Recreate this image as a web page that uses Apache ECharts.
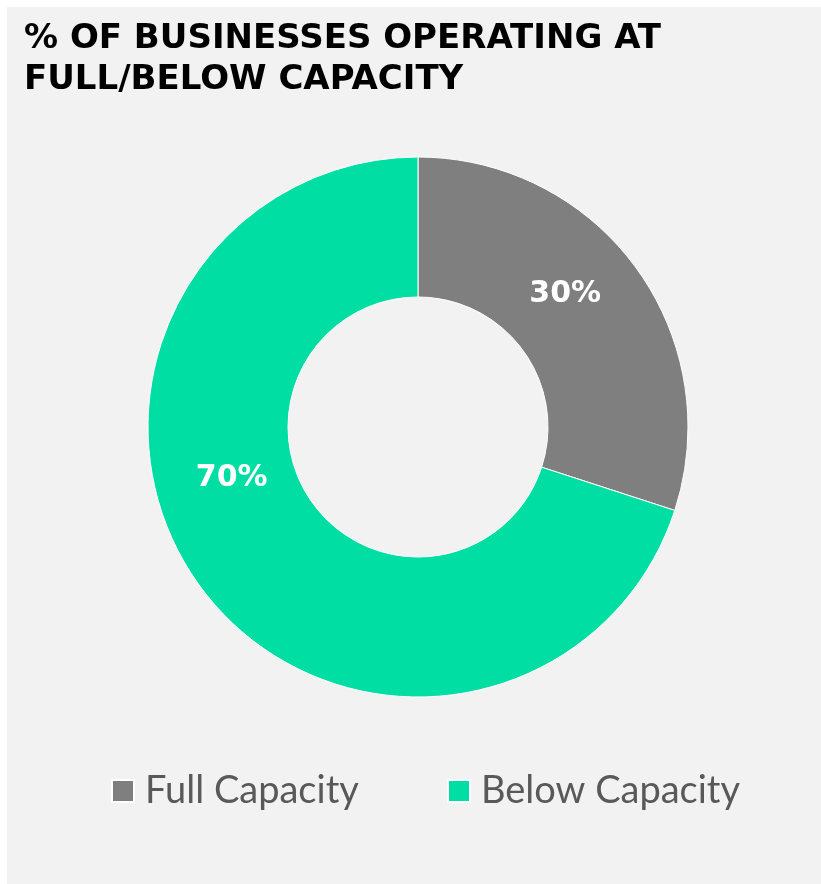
<!DOCTYPE html>
<html>
<head>
<meta charset="utf-8">
<script src="https://cdn.jsdelivr.net/npm/echarts@6/dist/echarts.min.js"></script>
<style>
html,body{margin:0;padding:0;background:#ffffff;}
#chart{width:821px;height:884px;}
</style>
</head>
<body>
<div id="chart"></div>
<script>
const titleText = '% OF BUSINESSES OPERATING AT\nFULL/BELOW CAPACITY';
const categories = ['Full Capacity', 'Below Capacity'];
const values = [30, 70];

const sliceColors = ['#7f7f7f', '#00dea3'];
const labelOffsets = [[-17, -13], [-22, -68]];

const chart = echarts.init(document.getElementById('chart'));
const option = {
  backgroundColor: '#ffffff',
  animation: false,
  graphic: [{
    type: 'rect', z: -10, silent: true,
    shape: { x: 7, y: 7, width: 821, height: 884 },
    style: { fill: '#f2f2f2' }
  }],
  title: {
    text: titleText,
    left: 24, top: 19, padding: 0,
    textStyle: {
      fontFamily: 'DejaVu Sans', fontWeight: 'bold', fontSize: 34,
      lineHeight: 41, color: '#000000'
    }
  },
  legend: [{
    data: [categories[0]],
    left: 111, top: 772, padding: 0,
    itemWidth: 22, itemHeight: 22, itemGap: 12,
    icon: 'rect',
    textStyle: { fontFamily: 'Lato', fontSize: 38, color: '#595959', padding: [0, 0, 0, 6] }
  }, {
    data: [categories[1]],
    left: 447, top: 772, padding: 0,
    itemWidth: 22, itemHeight: 22,
    icon: 'rect',
    textStyle: { fontFamily: 'Lato', fontSize: 38, color: '#595959', padding: [0, 0, 0, 6] }
  }],
  series: [{
    type: 'pie',
    center: [418, 427],
    radius: [130, 270],
    startAngle: 90,
    clockwise: true,
    itemStyle: { borderColor: '#ffffff', borderWidth: 1 },
    label: {
      show: true, position: 'inside', formatter: '{c}%',
      fontFamily: 'DejaVu Sans', fontWeight: 'bold', fontSize: 30, color: '#ffffff'
    },
    labelLine: { show: false },
    data: categories.map((name, i) => ({
      name: name, value: values[i],
      itemStyle: { color: sliceColors[i] },
      label: { offset: labelOffsets[i] }
    }))
  }]
};
chart.setOption(option);
</script>
</body>
</html>
